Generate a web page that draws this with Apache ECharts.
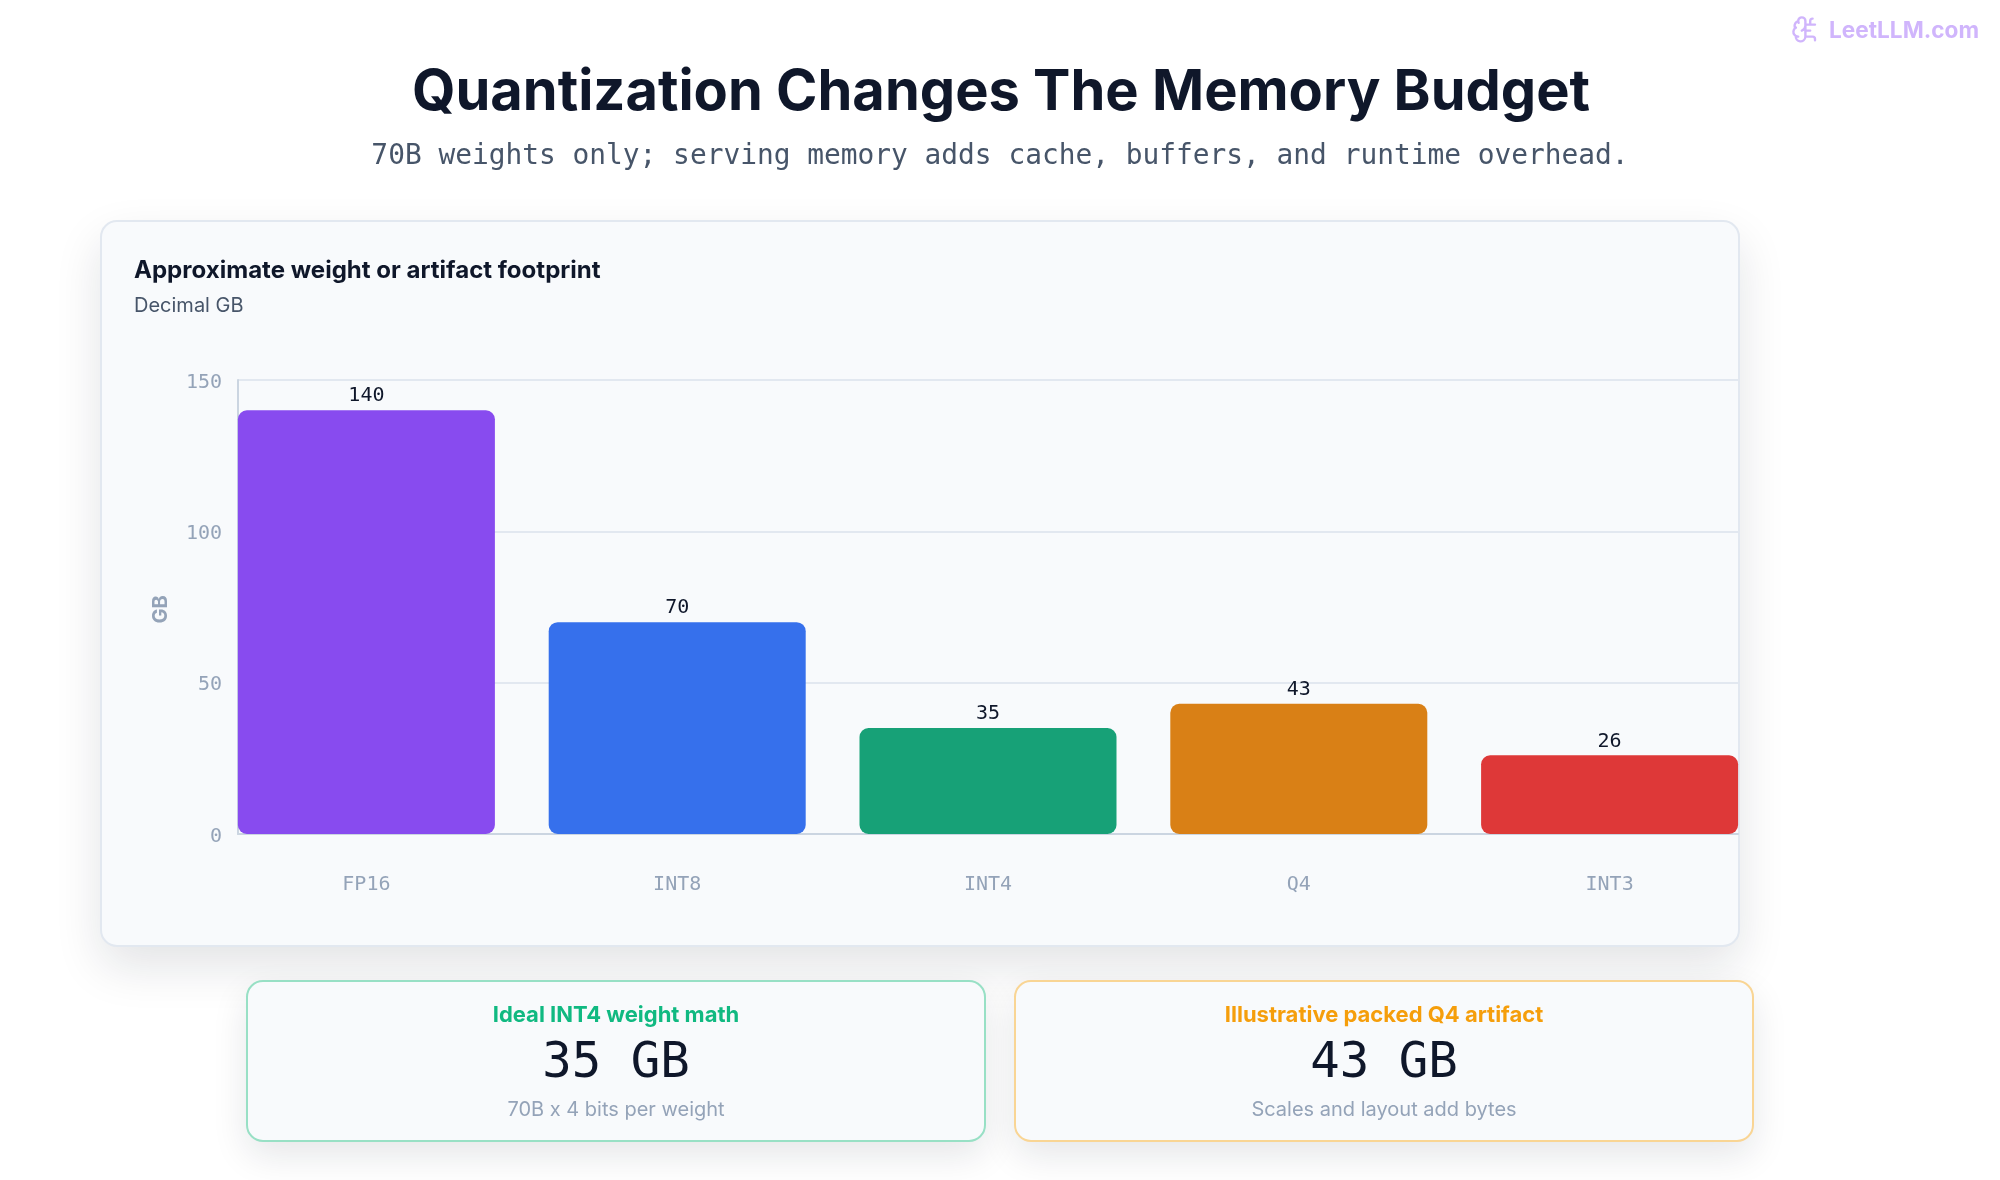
<!DOCTYPE html>
<html>
<head>
<meta charset="utf-8">
<title>Quantization Changes The Memory Budget</title>
<script src="https://cdn.jsdelivr.net/npm/echarts@6/dist/echarts.min.js"></script>
<style>
html,body{margin:0;padding:0;background:#fff}
#chart{width:2000px;height:1180px}
</style>
</head>
<body>
<div id="chart"></div>
<script>
const categories = ['FP16', 'INT8', 'INT4', 'Q4', 'INT3'];
const footprintGB = [140, 70, 35, 43, 26];
const barColors = ['#884bef', '#3670ec', '#17a177', '#d98016', '#de3838'];
const yTicks = { min: 0, max: 150, interval: 50 };

const SANS = 'Inter, "Noto Sans", sans-serif';
const MONO = '"DejaVu Sans Mono", "Liberation Mono", monospace';

// Brain-and-circuit logo next to the site name
const logoPathData = [
  'M12 5a3 3 0 1 0-5.997.125 4 4 0 0 0-2.526 5.77 4 4 0 0 0 .556 6.588A4 4 0 1 0 12 18Z',
  'M9 13a4.5 4.5 0 0 0 3-4',
  'M6.003 5.125A3 3 0 0 0 6.401 6.5',
  'M3.477 10.896a4 4 0 0 1 .585-.396',
  'M6 18a4 4 0 0 1-1.967-.516',
  'M12 13h4',
  'M12 18h6a2 2 0 0 1 2 2v1',
  'M12 8h8',
  'M16 8V5a2 2 0 0 1 2-2'
].join(' ');
echarts.graphic.registerShape('brainLogo', echarts.graphic.extendPath(logoPathData, {}));

const chart = echarts.init(document.getElementById('chart'), null, { renderer: 'canvas' });

// Text helper for the headings and the stat cards
function label(text, x, y, font, fill, align) {
  return {
    type: 'text', z: 5,
    style: { text, x, y, font, fill, textAlign: align || 'center', textVerticalAlign: 'middle' }
  };
}

// Rounded panel: a filled shape that casts the shadow, then the border on top of it
function panel(x, y, width, height, stroke, blur, offset, alpha) {
  const shape = { x, y, width, height, r: 16 };
  return [
    {
      type: 'rect', z: -6, shape,
      style: {
        fill: '#f8fafc',
        shadowBlur: blur, shadowOffsetY: offset, shadowColor: 'rgba(15,23,42,' + alpha + ')'
      }
    },
    { type: 'rect', z: -5, shape, style: { fill: '#f8fafc', stroke, lineWidth: 2 } }
  ];
}

const option = {
  backgroundColor: '#ffffff',
  animation: false,
  graphic: { elements: [
    ...panel(101, 221, 1638, 725, '#e2e8f0', 48, 20, 0.12),
    ...panel(247, 981, 738, 160, '#98e0c5', 36, 14, 0.11),
    ...panel(1015, 981, 738, 160, '#f9d594', 36, 14, 0.11),
    {
      type: 'brainLogo', z: 5, x: 1791, y: 15, scaleX: 1.2, scaleY: 1.2,
      style: { fill: 'none', stroke: '#d0b5fc', lineWidth: 2, lineCap: 'round', lineJoin: 'round' }
    },
    label('LeetLLM.com', 1979, 31, '700 22.6px ' + SANS, '#d0b5fc', 'right'),
    label('Quantization Changes The Memory Budget', 1001, 93, '700 56px ' + SANS, '#0f172a'),
    label('70B weights only; serving memory adds cache, buffers, and runtime overhead.', 1000, 156.5, '400 27.85px ' + MONO, '#475569'),
    label('Approximate weight or artifact footprint', 134, 271, '700 24.05px ' + SANS, '#0f172a', 'left'),
    label('Decimal GB', 134, 306, '400 20px ' + SANS, '#475569', 'left'),
    label('Ideal INT4 weight math', 616, 1015, '700 22px ' + SANS, '#10b981'),
    label('35 GB', 616, 1064, '400 49px ' + MONO, '#0f172a'),
    label('70B x 4 bits per weight', 616, 1110, '400 20px ' + SANS, '#94a3b8'),
    label('Illustrative packed Q4 artifact', 1384, 1015, '700 22px ' + SANS, '#f59e0b'),
    label('43 GB', 1384, 1064, '400 49px ' + MONO, '#0f172a'),
    label('Scales and layout add bytes', 1384, 1110, '400 20px ' + SANS, '#94a3b8')
  ] },
  // First grid carries the frame and gridlines, second one the bars,
  // which sit flush with both ends of the frame.
  grid: [
    { left: 238, top: 380, width: 1500, height: 454 },
    { left: 211, top: 380, width: 1554, height: 454 }
  ],
  xAxis: [
    {
      gridIndex: 0, type: 'category', data: categories,
      axisLine: { show: true, lineStyle: { color: '#cbd5e1', width: 2 } },
      axisTick: { show: false }, axisLabel: { show: false }, splitLine: { show: false }
    },
    {
      gridIndex: 1, type: 'category', data: categories,
      axisLine: { show: false }, axisTick: { show: false }, splitLine: { show: false },
      axisLabel: { color: '#94a3b8', fontFamily: MONO, fontSize: 20, margin: 41 }
    }
  ],
  yAxis: [
    {
      gridIndex: 0, type: 'value', min: yTicks.min, max: yTicks.max, interval: yTicks.interval,
      name: 'GB', nameLocation: 'middle', nameGap: 67, nameRotate: 90,
      nameTextStyle: { color: '#94a3b8', fontFamily: SANS, fontSize: 20, fontWeight: 700, padding: [0, 5, 0, 0] },
      axisLine: { show: true, lineStyle: { color: '#cbd5e1', width: 2 } },
      axisTick: { show: false },
      axisLabel: { color: '#94a3b8', fontFamily: MONO, fontSize: 20, margin: 16, verticalAlign: 'top', lineHeight: 5 },
      splitLine: { show: true, lineStyle: { color: '#e2e8f0', width: 2 } }
    },
    {
      gridIndex: 1, type: 'value', min: yTicks.min, max: yTicks.max, interval: yTicks.interval,
      axisLine: { show: false }, axisTick: { show: false }, axisLabel: { show: false }, splitLine: { show: false }
    }
  ],
  series: [{
    type: 'bar',
    xAxisIndex: 1, yAxisIndex: 1,
    barWidth: 257,
    clip: false,
    data: footprintGB.map((value, i) => ({ value, itemStyle: { color: barColors[i] } })),
    itemStyle: { borderRadius: 9 },
    label: {
      show: true, position: 'top', distance: 4,
      color: '#0f172a', fontFamily: MONO, fontSize: 20
    }
  }]
};
chart.setOption(option);
</script>
</body>
</html>
